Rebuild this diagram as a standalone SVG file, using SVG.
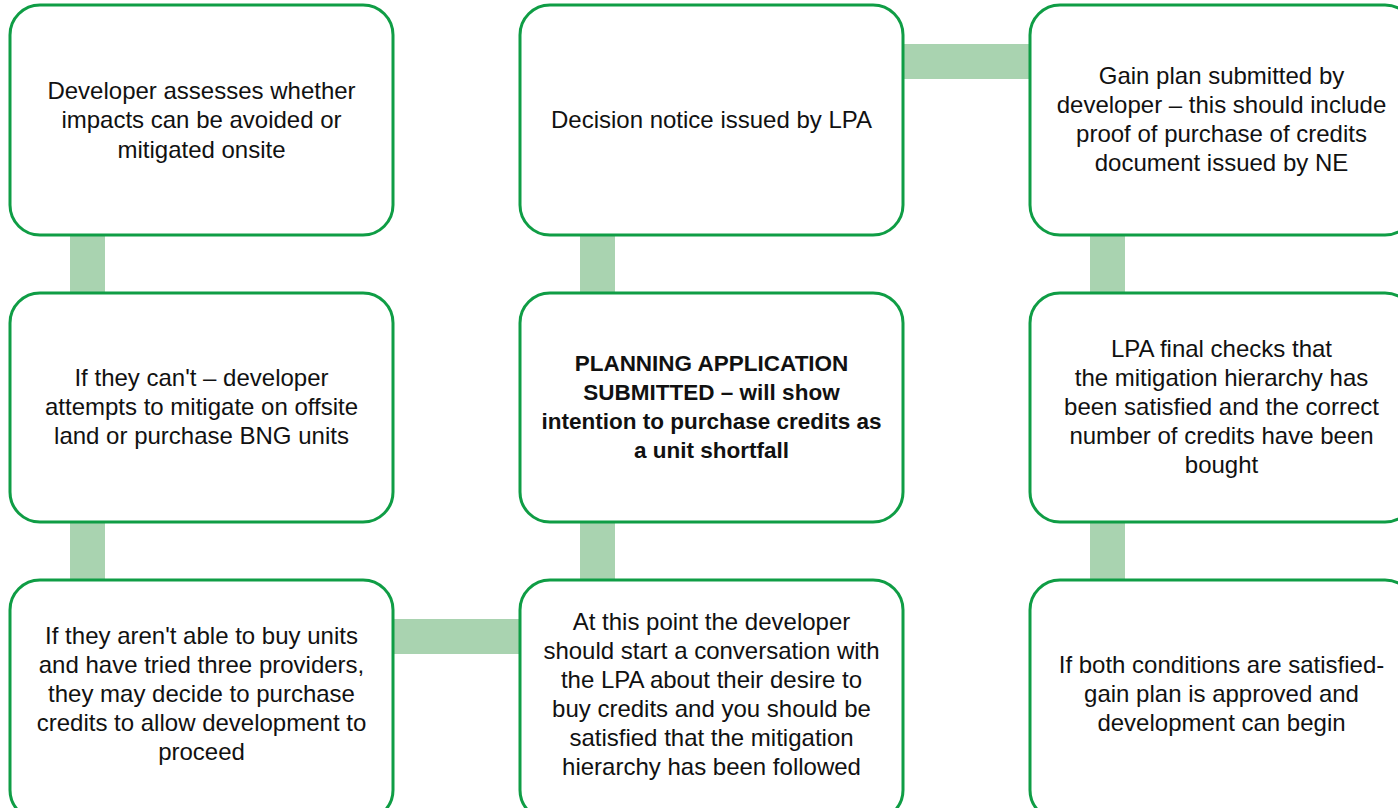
<svg xmlns="http://www.w3.org/2000/svg" width="1398" height="808" viewBox="0 0 1398 808">
<style>
.box{fill:#ffffff;stroke:#0f9d45;stroke-width:3}
.bar{fill:#a9d3b0}
text{font-family:"Liberation Sans",Arial,sans-serif;font-size:24px;fill:#111111;text-anchor:middle}
.b{font-weight:bold;font-size:22.5px}
</style>
<rect width="1398" height="808" fill="#ffffff"/>
<g id="connectors">
<rect class="bar" x="70" y="234" width="35" height="60"/>
<rect class="bar" x="70" y="521" width="35" height="60"/>
<rect class="bar" x="580" y="234" width="35" height="60"/>
<rect class="bar" x="580" y="521" width="35" height="60"/>
<rect class="bar" x="1090" y="234" width="35" height="60"/>
<rect class="bar" x="1090" y="521" width="35" height="60"/>
<rect class="bar" x="902" y="44" width="129" height="35"/>
<rect class="bar" x="392" y="619" width="129" height="35"/>
</g>
<g id="n1">
<rect class="box" x="10" y="5" width="383" height="230" rx="30"/>
<text x="201.5" y="98.5">Developer assesses whether</text>
<text x="201.5" y="128">impacts can be avoided or</text>
<text x="201.5" y="157.5">mitigated onsite</text>
</g>
<g id="n2">
<rect class="box" x="10" y="293" width="383" height="229" rx="30"/>
<text x="201.5" y="386">If they can't – developer</text>
<text x="201.5" y="415">attempts to mitigate on offsite</text>
<text x="201.5" y="444">land or purchase BNG units</text>
</g>
<g id="n3">
<rect class="box" x="10" y="580" width="383" height="240" rx="30"/>
<text x="201.5" y="644">If they aren't able to buy units</text>
<text x="201.5" y="673">and have tried three providers,</text>
<text x="201.5" y="702">they may decide to purchase</text>
<text x="201.5" y="731">credits to allow development to</text>
<text x="201.5" y="760">proceed</text>
</g>
<g id="n4">
<rect class="box" x="520" y="580" width="383" height="240" rx="30"/>
<text x="711.5" y="630">At this point the developer</text>
<text x="711.5" y="659">should start a conversation with</text>
<text x="711.5" y="688">the LPA about their desire to</text>
<text x="711.5" y="717">buy credits and you should be</text>
<text x="711.5" y="746">satisfied that the mitigation</text>
<text x="711.5" y="775">hierarchy has been followed</text>
</g>
<g id="n5">
<rect class="box" x="520" y="293" width="383" height="229" rx="30"/>
<text class="b" x="711.5" y="371">PLANNING APPLICATION</text>
<text class="b" x="711.5" y="400">SUBMITTED – will show</text>
<text class="b" x="711.5" y="429">intention to purchase credits as</text>
<text class="b" x="711.5" y="458">a unit shortfall</text>
</g>
<g id="n6">
<rect class="box" x="520" y="5" width="383" height="230" rx="30"/>
<text x="711.5" y="128">Decision notice issued by LPA</text>
</g>
<g id="n7">
<rect class="box" x="1030" y="5" width="385" height="230" rx="30"/>
<text x="1221.5" y="84">Gain plan submitted by</text>
<text x="1221.5" y="113">developer – this should include</text>
<text x="1221.5" y="142">proof of purchase of credits</text>
<text x="1221.5" y="171">document issued by NE</text>
</g>
<g id="n8">
<rect class="box" x="1030" y="293" width="385" height="229" rx="30"/>
<text x="1221.5" y="357">LPA final checks that</text>
<text x="1221.5" y="386">the mitigation hierarchy has</text>
<text x="1221.5" y="415">been satisfied and the correct</text>
<text x="1221.5" y="444">number of credits have been</text>
<text x="1221.5" y="473">bought</text>
</g>
<g id="n9">
<rect class="box" x="1030" y="580" width="385" height="240" rx="30"/>
<text x="1221.5" y="673">If both conditions are satisfied-</text>
<text x="1221.5" y="702">gain plan is approved and</text>
<text x="1221.5" y="731">development can begin</text>
</g>
</svg>
